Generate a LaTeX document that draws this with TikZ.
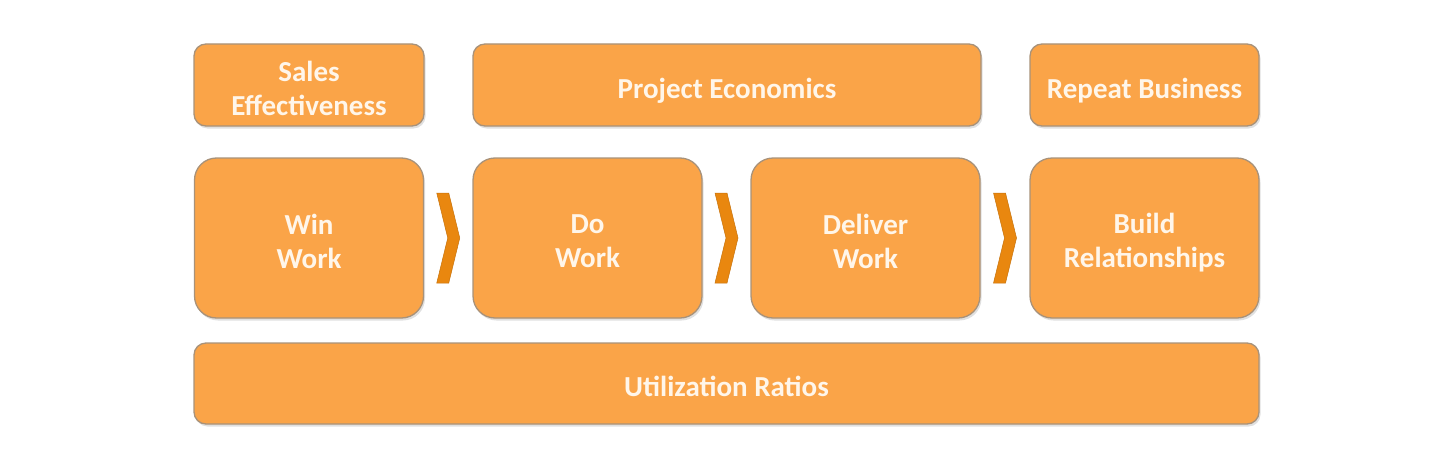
\documentclass[tikz,border=0pt]{standalone}
\usepackage{fontspec}
\setmainfont{Carlito}
\usetikzlibrary{calc,shadows}
\definecolor{boxfill}{HTML}{FAA448}
\definecolor{boxline}{HTML}{A8927A}
\definecolor{boxtext}{HTML}{FFF6EA}
\definecolor{chevcol}{HTML}{E9870F}
\tikzset{
  lbl/.style={text=boxtext, font=\bfseries\fontsize{29}{34}\selectfont, align=center, inner sep=0pt, yshift=-3pt},
  lbld/.style={lbl, yshift=-2.5pt},
  box/.style={draw=boxline, line width=1.3pt, fill=boxfill, inner sep=0pt,
    drop shadow={shadow xshift=1.5pt, shadow yshift=-2.5pt, fill=black!35, opacity=0.35}},
  topbox/.style={box, rounded corners=12pt, minimum height=82pt},
  midbox/.style={box, rounded corners=22pt, minimum height=160pt, minimum width=229pt},
  chev/.style={fill=chevcol, draw=chevcol!85!black, line width=0.5pt}
}
\begin{document}
\begin{tikzpicture}[x=1pt,y=-1pt]
\useasboundingbox (0,0) rectangle (1442,460);
\node[topbox, minimum width=230pt, label={[lbl]center:{Sales\\Effectiveness}}] (sales) at (309,85) {};
\node[topbox, minimum width=508pt, label={[lbld]center:{Project Economics}}] (proj) at (727,85) {};
\node[topbox, minimum width=229pt, label={[lbld]center:{Repeat Business}}] (rep) at (1144.5,85) {};
\node[midbox, label={[lbl]center:{Win\\Work}}] (win) at (309,238) {};
\node[midbox, label={[lbl]center:{Do\\Work}}] (do) at (587.5,238) {};
\node[midbox, label={[lbl]center:{Deliver\\Work}}] (del) at (865.5,238) {};
\node[midbox, label={[lbl, yshift=-1.8pt]center:{Build\\Relationships}}] (build) at (1144.5,238) {};
\node[box, rounded corners=12pt, minimum width=1065pt, minimum height=81pt, label={[lbl]center:{Utilization Ratios}}] (util) at (726.5,383.5) {};
\foreach \a/\b in {win/do, do/del, del/build}{
  \draw[chev] ($(\a.east)!0.5!(\b.west)$) ++(-11.5,-45) -- ++(12,0) -- ++(11,45) -- ++(-11,45) -- ++(-12,0) -- ++(11,-45) -- cycle;
}
\end{tikzpicture}
\end{document}
